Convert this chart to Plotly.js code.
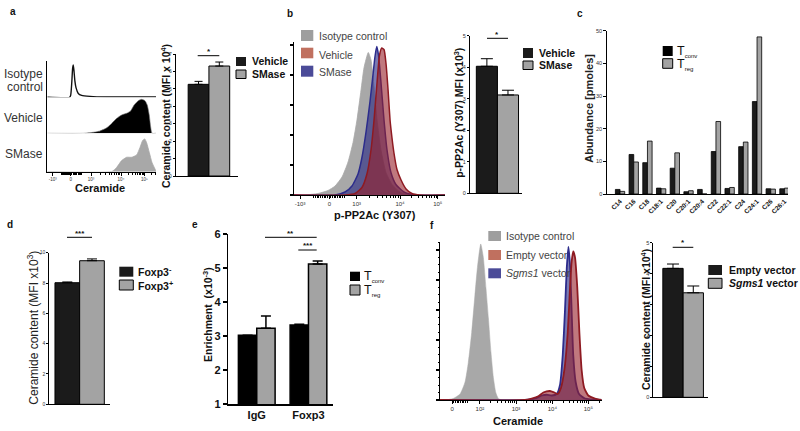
<!DOCTYPE html>
<html><head><meta charset="utf-8">
<script src="https://cdn.plot.ly/plotly-3.0.1.min.js"></script>
<style>html,body{margin:0;padding:0;background:#fff;}#chart{width:800px;height:431px;}</style>
</head><body><div id="chart"></div>
<script>
// ---------- DATA ----------
// panel a histograms (channel position 0-100, normalised count)
const aIsoX = [0, 20.5, 21.5, 22.5, 23.3, 23.9, 24.6, 25.4, 26.4, 28.5, 31.6, 39.3, 54.6, 100];
const aIsoY = [0, 0, 0.06, 0.45, 0.9, 1.0, 0.8, 0.5, 0.3, 0.12, 0.06, 0.03, 0.01, 0.01];
const aVehX = [0, 33.1, 42.3, 48.5, 54.6, 59.2, 63.8, 68.4, 73, 76.7, 79.8, 83.7, 86.8, 89.9, 92, 93.8, 95.1, 96.3, 100];
const aVehY = [0, 0, 0.03, 0.07, 0.16, 0.29, 0.44, 0.54, 0.59, 0.66, 0.83, 0.96, 1.0, 0.96, 0.83, 0.54, 0.19, 0, 0];
const aSmaX = [0, 59.2, 63.8, 68.4, 73, 77.6, 82.2, 85.3, 87.7, 89.6, 91.4, 93.8, 96.3, 99.1, 100];
const aSmaY = [0, 0, 0.13, 0.34, 0.44, 0.44, 0.51, 0.74, 0.95, 1.0, 0.88, 0.59, 0.28, 0.08, 0];
const aHistTicks = ['-10³', '0', '10³', '10⁴', '10⁵'];
// panel a bars
const aCats = ['Vehicle', 'SMase'];
const aVals = [5.26, 6.31];
const aErr = [0.17, 0.23];
// panel b histograms
const bIsoX = [0, 7.3, 15.9, 22.5, 27.2, 31.8, 35.8, 39.1, 41.7, 44.4, 46.4, 49.2, 51, 53, 55, 57.6, 60.9, 64.9, 70.2, 76.8, 100];
const bIsoY = [0, 0, 0.01, 0.03, 0.06, 0.12, 0.22, 0.35, 0.5, 0.7, 0.85, 0.95, 0.9, 0.72, 0.5, 0.3, 0.15, 0.07, 0.02, 0, 0];
const bSmaX = [0, 27.2, 33.8, 38.4, 42.4, 45, 47.7, 50.3, 52.3, 53.6, 54.8, 56, 57.6, 59.6, 61.6, 64.2, 67.5, 72.8, 80.1, 100];
const bSmaY = [0, 0, 0.02, 0.06, 0.14, 0.25, 0.42, 0.62, 0.8, 0.92, 0.99, 0.93, 0.75, 0.5, 0.3, 0.15, 0.07, 0.02, 0, 0];
const bVehX = [0, 33.8, 40.4, 45, 48.3, 51, 53, 55, 56.6, 58.1, 59.6, 60.9, 62.3, 63.6, 64.9, 66.2, 68.2, 70.9, 74.2, 78.1, 83.4, 100];
const bVehY = [0, 0, 0.01, 0.05, 0.14, 0.3, 0.5, 0.75, 0.93, 0.98, 0.97, 0.88, 0.7, 0.5, 0.38, 0.28, 0.17, 0.1, 0.04, 0.01, 0, 0];
const bHistTicks = ['-10³', '0', '10³', '10⁴', '10⁵'];
// panel b bars
const bCats = ['Vehicle', 'SMase'];
const bVals = [4.03, 3.12];
const bErr = [0.24, 0.15];
// panel c
const cCats = ['C14', 'C16', 'C18', 'C18:1', 'C20', 'C20:1', 'C20:4', 'C22', 'C22:1', 'C24', 'C24:1', 'C26', 'C26:1'];
const cTconv = [1.4, 12.1, 9.6, 1.8, 7.9, 0.7, 1.4, 13.0, 1.7, 14.5, 28.3, 1.6, 1.6];
const cTreg = [0.8, 9.8, 16.2, 1.6, 12.6, 1.0, 0, 22.2, 2.0, 15.9, 48.1, 1.5, 1.8];
// panel d
const dCats = ['Foxp3-', 'Foxp3+'];
const dVals = [8.02, 9.47];
const dErr = [0.05, 0.12];
// panel e
const eCats = ['IgG', 'Foxp3'];
const eTconv = [3.03, 3.33];
const eTreg = [3.23, 5.12];
const eTconvErr = [0, 0.02];
const eTregErr = [0.36, 0.09];
// panel f histograms
const fIsoX = [0, 3.1, 8.2, 12.4, 15.5, 17.5, 19.6, 21.6, 23.3, 25.2, 26.8, 28.4, 29.9, 31.5, 33, 34.5, 36.1, 38.2, 100];
const fIsoY = [0, 0, 0.01, 0.04, 0.12, 0.25, 0.45, 0.7, 0.9, 1.04, 0.95, 0.75, 0.55, 0.32, 0.15, 0.05, 0.01, 0, 0];
const fEmpX = [0, 52.6, 56.7, 60.8, 63.9, 68, 70.7, 72.8, 74.8, 76.9, 79, 80.4, 81.4, 82.4, 83.5, 84.9, 86.2, 87.6, 89.2, 91.7, 95.8, 100];
const fEmpY = [0, 0, 0.01, 0.025, 0.05, 0.06, 0.05, 0.04, 0.08, 0.2, 0.45, 0.75, 0.92, 0.99, 0.95, 0.75, 0.45, 0.2, 0.08, 0.03, 0.01, 0];
const fSgmX = [0, 52.6, 58.8, 62.9, 66, 69.1, 72.2, 74.2, 75.9, 77.3, 78.4, 79.4, 80.4, 81.4, 82.4, 83.9, 86, 89.7, 100];
const fSgmY = [0, 0, 0.01, 0.03, 0.035, 0.03, 0.04, 0.1, 0.3, 0.6, 0.88, 1.02, 0.9, 0.6, 0.3, 0.12, 0.04, 0.01, 0];
const fHistTicks = ['0', '10²', '10³', '10⁴', '10⁵'];
// panel f bars
const fCats = ['Empty vector', 'Sgms1 vector'];
const fVals = [4.17, 3.38];
const fErr = [0.14, 0.22];

// ---------- STYLE / HELPERS ----------
const FONT = 'Liberation Sans, Arial, Helvetica, sans-serif';
const BLACK = '#1b1b1b', GRAY = '#a3a3a3';
const ISO = '#a8a8a8';
const RED_FILL = 'rgba(150,30,40,0.6)', RED_LINE = '#8e1a22';
const BLUE_FILL = 'rgba(40,40,130,0.62)', BLUE_LINE = '#2c2c8c';
const P = px => px / 800;
const Q = py => 1 - py / 431;

function minorFrom(major, posStart) {
  const out = [];
  for (let i = posStart; i < major.length - 1; i++) {
    const p = major[i], q = major[i + 1];
    for (let k = 2; k <= 9; k++) out.push(p + (q - p) * Math.log10(k));
  }
  const last = major[major.length - 1], w = major[major.length - 1] - major[major.length - 2];
  for (let k = 2; k <= 9; k++) { const v = last + w * Math.log10(k); if (v < 100) out.push(v); }
  return out;
}
function zeroMinor(neg, zero, pos) {
  const out = [];
  for (let k = 1; k <= 9; k++) {
    out.push(zero + (pos - zero) * k / 10 * 0.6);
    if (neg !== null) out.push(zero - (zero - neg) * k / 10 * 0.6);
  }
  return out;
}
function histX(l, r, anchor, tv, tt, minor, fs) {
  return {domain: [P(l), P(r)], anchor, range: [0, 100], showline: true, linecolor: '#000', linewidth: 1,
    ticks: 'outside', ticklen: 3, tickwidth: 1, tickcolor: '#000', tickvals: tv, ticktext: tt,
    tickfont: {size: fs, color: '#333', family: FONT}, showgrid: false, zeroline: false, fixedrange: true,
    minor: {tickmode: 'array', tickvals: minor, ticks: 'outside', ticklen: 2, tickwidth: 1, tickcolor: '#000', showgrid: false}};
}
function barY(bot, top, range, dtick, fs, anchor, extra) {
  return Object.assign({domain: [Q(bot), Q(top)], anchor, range, dtick, tick0: range[0], showline: true, linecolor: '#000',
    linewidth: 1, ticks: 'outside', ticklen: 2, tickwidth: 1, tickcolor: '#000',
    tickfont: {size: fs, color: '#333', family: FONT}, showgrid: false, zeroline: false, fixedrange: true}, extra || {});
}
function barX(l, r, range, anchor, extra) {
  return Object.assign({domain: [P(l), P(r)], anchor, range, type: 'category', showline: true, linecolor: '#000',
    linewidth: 1, ticks: '', showticklabels: false, showgrid: false, zeroline: false, fixedrange: true}, extra || {});
}
function hist(x, y, xa, ya, fill, line, lw) {
  return {type: 'scatter', mode: 'lines', x, y, xaxis: xa, yaxis: ya, fill: 'tozeroy', fillcolor: fill,
    line: {color: line, width: lw, shape: 'spline', smoothing: 0.5}, hoverinfo: 'skip', cliponaxis: true};
}
function twoBar(cats, vals, err, xa, ya, cap) {
  return {type: 'bar', x: cats, y: vals, xaxis: xa, yaxis: ya, width: 1,
    marker: {color: [BLACK, GRAY], line: {color: '#000', width: 1}},
    error_y: {type: 'data', symmetric: false, array: err, arrayminus: [0, 0], color: '#000', thickness: 1, width: cap}};
}

// ---------- TRACES ----------
const traces = [
  hist(aSmaX, aSmaY, 'x', 'y', ISO, ISO, 0.8),
  hist(aVehX, aVehY, 'x', 'y2', '#000', '#777', 0.6),
  {type: 'scatter', mode: 'lines', x: aIsoX, y: aIsoY, xaxis: 'x', yaxis: 'y3', line: {color: '#111', width: 1.4, shape: 'spline', smoothing: 0.5}, hoverinfo: 'skip'},
  twoBar(aCats, aVals, aErr, 'x2', 'y4', 4),
  hist(bIsoX, bIsoY, 'x3', 'y5', ISO, ISO, 0.8),
  hist(bSmaX, bSmaY, 'x3', 'y5', BLUE_FILL, BLUE_LINE, 1.5),
  hist(bVehX, bVehY, 'x3', 'y5', RED_FILL, RED_LINE, 1.5),
  twoBar(bCats, bVals, bErr, 'x4', 'y6', 6),
  {type: 'bar', name: 'Tconv', x: cCats, y: cTconv, xaxis: 'x5', yaxis: 'y7', width: 0.34, offset: -0.34,
    marker: {color: BLACK, line: {color: '#000', width: 0.8}}},
  {type: 'bar', name: 'Treg', x: cCats, y: cTreg, xaxis: 'x5', yaxis: 'y7', width: 0.34, offset: 0,
    marker: {color: GRAY, line: {color: '#000', width: 0.8}}},
  twoBar(dCats, dVals, dErr, 'x6', 'y8', 5),
  {type: 'bar', name: 'Tconv', x: eCats, y: eTconv, xaxis: 'x7', yaxis: 'y9', width: 0.355, offset: -0.355,
    marker: {color: '#000', line: {color: '#000', width: 1.5}},
    error_y: {type: 'data', symmetric: false, array: eTconvErr, arrayminus: [0, 0], color: '#000', thickness: 1.5, width: 5}},
  {type: 'bar', name: 'Treg', x: eCats, y: eTreg, xaxis: 'x7', yaxis: 'y9', width: 0.355, offset: 0,
    marker: {color: GRAY, line: {color: '#000', width: 1.5}},
    error_y: {type: 'data', symmetric: false, array: eTregErr, arrayminus: [0, 0], color: '#000', thickness: 1.5, width: 5}},
  hist(fIsoX, fIsoY, 'x8', 'y10', ISO, ISO, 0.5),
  hist(fSgmX, fSgmY, 'x8', 'y10', BLUE_FILL, BLUE_LINE, 1.8),
  hist(fEmpX, fEmpY, 'x8', 'y10', RED_FILL, RED_LINE, 1.8),
  twoBar(fCats, fVals, fErr, 'x9', 'y11', 6)
];

// ---------- AXES ----------
const aTV = [5.0, 21.6, 40.2, 67.8, 89.3];
const bTV = [4.0, 23.4, 41.5, 70.2, 95.2];
const fTV = [7.6, 24.7, 47.0, 69.5, 91.7];
const noAx = (bot, top, range) => ({domain: [Q(bot), Q(top)], anchor: 'x', range, showline: true, linecolor: '#000', linewidth: 1,
  ticks: '', showticklabels: false, showgrid: false, zeroline: false, fixedrange: true});

const layout = {
  width: 800, height: 431, margin: {l: 0, r: 0, t: 0, b: 0}, paper_bgcolor: '#fff', plot_bgcolor: 'rgba(0,0,0,0)',
  showlegend: false, barmode: 'group', bargap: 0, font: {family: FONT, color: '#222'},
  xaxis: histX(47.3, 156, 'y', aTV, aHistTicks, zeroMinor(aTV[0], aTV[1], aTV[2]).concat(minorFrom(aTV, 2)), 4.5),
  yaxis: noAx(171.7, 133.3, [0, 1.17]),
  yaxis2: noAx(133.3, 97.3, [0, 1.06]),
  yaxis3: noAx(97.3, 61, [0, 1.124]),
  xaxis2: barX(175.7, 238, [-1.1, 1.9], 'y4'),
  yaxis4: barY(176, 54, [0, 7], 1, 5, 'x2'),
  xaxis3: histX(294, 445, 'y5', bTV, bHistTicks, zeroMinor(bTV[0], bTV[1], bTV[2]).concat(minorFrom(bTV, 2)), 6),
  yaxis5: barY(195, 42, [0, 1.02], 0.2, 5, 'x3', {showticklabels: false, ticklen: 3, tickwidth: 1.5}),
  xaxis4: barX(470, 521.7, [-0.8, 1.65], 'y6'),
  yaxis6: barY(193.3, 35.7, [0, 5], 1, 5.5, 'x4'),
  xaxis5: barX(607.3, 788, [-0.93, 12.26], 'y7', {showticklabels: true, tickangle: -45,
    tickfont: {size: 6.5, color: '#111', family: FONT, weight: 'bold'}}),
  yaxis7: barY(194, 30.7, [0, 50], 10, 5.5, 'x5', {ticklen: 3}),
  xaxis6: barX(49.3, 110, [-0.73, 1.73], 'y8'),
  yaxis8: barY(404.3, 252.7, [0, 10], 2, 5, 'x6'),
  xaxis7: barX(228.3, 333.3, [-0.55, 1.48], 'y9', {showticklabels: true, linewidth: 1.6,
    tickfont: {size: 11, color: '#111', family: FONT, weight: 'bold'}}),
  yaxis9: barY(404.3, 234, [1, 6], 1, 11, 'x7', {linewidth: 1.6, ticklen: 4, tickwidth: 1.6,
    tickfont: {size: 11, color: '#111', family: FONT, weight: 'bold'}}),
  xaxis8: histX(440, 601.7, 'y10', fTV, fHistTicks, zeroMinor(null, fTV[0], fTV[1]).concat(minorFrom(fTV, 1)), 6),
  yaxis10: barY(400, 241.7, [0, 1.055], 0.2, 5, 'x8', {showticklabels: false, ticklen: 3, tickwidth: 1.5,
    minor: {dtick: 0.05, ticks: 'outside', ticklen: 1.5, tickwidth: 1, tickcolor: '#000', showgrid: false}}),
  xaxis9: barX(653.3, 708.3, [-0.97, 1.74], 'y11'),
  yaxis11: barY(397.3, 242.7, [0, 5], 1, 5.5, 'x9'),
  shapes: [],
  annotations: []
};

const A = layout.annotations, S = layout.shapes;
function txt(text, x, y, size, opts) {
  A.push(Object.assign({text, x: P(x), y: Q(y), xref: 'paper', yref: 'paper', showarrow: false,
    xanchor: 'center', yanchor: 'middle', font: {size, family: FONT, color: '#111'}}, opts || {}));
}
function line(x0, x1, y, w) {
  S.push({type: 'line', xref: 'paper', yref: 'paper', x0: P(x0), x1: P(x1), y0: Q(y), y1: Q(y), line: {color: '#000', width: w || 1}});
}
function box(x0, x1, y0, y1, fill, border) {
  S.push({type: 'rect', xref: 'paper', yref: 'paper', x0: P(x0), x1: P(x1), y0: Q(y1), y1: Q(y0), fillcolor: fill,
    line: {color: border || fill, width: border ? 1 : 0}});
}
const bold = (s, c) => ({size: s, family: FONT, color: c || '#111', weight: 'bold'});
const reg = (s, c) => ({size: s, family: FONT, color: c || '#333'});

[['a', 13, 12], ['b', 290, 13], ['c', 580, 13], ['d', 10, 224], ['e', 195, 224], ['f', 432, 225]]
  .forEach(l => txt(l[0], l[1], l[2], 10, {font: bold(10)}));

// panel a
txt('Isotype', 45, 74, 12, {xanchor: 'right', font: reg(12)});
txt('control', 45, 86.5, 12, {xanchor: 'right', font: reg(12)});
txt('Vehicle', 45, 117.7, 12, {xanchor: 'right', font: reg(12)});
txt('SMase', 45, 154.3, 12, {xanchor: 'right', font: reg(12)});
txt('Ceramide', 100.5, 187.5, 11, {font: bold(11)});
txt('Ceramide content (MFI x 10<sup>4</sup>)', 165, 116, 10.5, {textangle: -90, font: bold(10.5)});
line(197.7, 219.3, 55.7); txt('*', 208.5, 51.5, 8, {font: bold(8)});
box(236, 246, 57, 66, BLACK); box(236, 246, 70, 78.5, GRAY, '#000');
txt('Vehicle', 249.5, 61.5, 10.5, {xanchor: 'left', font: bold(10.5)});
txt('SMase', 249.5, 74.2, 10.5, {xanchor: 'left', font: bold(10.5)});

// panel b
box(301, 313.3, 30, 41, '#9e9e9e'); box(301, 313.3, 47.7, 58.3, '#c0705f'); box(301, 313.3, 65.7, 76.7, '#4b4b98');
txt('Isotype control', 316.5, 36, 10.5, {xanchor: 'left', font: reg(10.5, '#444')});
txt('Vehicle', 316.5, 54.5, 10.5, {xanchor: 'left', font: reg(10.5, '#444')});
txt('SMase', 316.5, 72.5, 10.5, {xanchor: 'left', font: reg(10.5, '#444')});
txt('p-PP2Ac (Y307)', 375, 215, 11, {font: bold(11)});
txt('p-PP2Ac (Y307) MFI (x10<sup>3</sup>)', 458.3, 112.5, 10.5, {textangle: -90, font: bold(10.5)});
line(487, 508, 38.3); txt('*', 497.5, 34.5, 8, {font: bold(8)});
box(523, 533, 48, 58, BLACK); box(523, 533, 61, 69.5, GRAY, '#000');
txt('Vehicle', 536.5, 53, 10.5, {xanchor: 'left', font: bold(10.5)});
txt('SMase', 536.5, 65.3, 10.5, {xanchor: 'left', font: bold(10.5)});

// panel c
txt('Abundance [pmoles]', 588.3, 108.5, 11, {textangle: -90, font: bold(11, '#222')});
box(662.7, 672.7, 46, 56, '#000'); box(662.7, 672.7, 58.7, 68.3, GRAY, '#000');
txt('T<sub><span style="font-size:6px">conv</span></sub>', 674.5, 51.5, 12.5, {xanchor: 'left'});
txt('T<sub><span style="font-size:6px">reg</span></sub>', 674.5, 64, 12.5, {xanchor: 'left'});

// panel d
txt('Ceramide content (MFI x10<sup>3</sup>)', 32.7, 328, 12, {textangle: -90, font: reg(12, '#222')});
line(67, 92, 237.3); txt('***', 79.5, 233, 8, {font: bold(8)});
box(119.3, 133.3, 266.7, 276.7, BLACK); box(119.3, 133.3, 280, 290, GRAY, '#000');
txt('Foxp3<sup>-</sup>', 135.5, 271.7, 10.5, {xanchor: 'left', font: bold(10.5)});
txt('Foxp3<sup>+</sup>', 135.5, 285, 10.5, {xanchor: 'left', font: bold(10.5)});

// panel e
txt('Enrichment  (x10<sup>-3</sup>)', 207, 314, 10.5, {textangle: -90, font: bold(10.5)});
line(265, 316.7, 237.3); txt('**', 290.8, 233, 8, {font: bold(8)});
line(298.3, 316.7, 250); txt('***', 307.5, 246, 8, {font: bold(8)});
box(350, 360, 271.7, 281, '#000'); box(350, 360, 285, 295, GRAY, '#000');
txt('T<sub><span style="font-size:6px">conv</span></sub>', 361.5, 276.5, 12.5, {xanchor: 'left'});
txt('T<sub><span style="font-size:6px">reg</span></sub>', 361.5, 290, 12.5, {xanchor: 'left'});

// panel f
box(488.3, 501, 231, 241, '#9e9e9e'); box(488.3, 501, 250, 260, '#c0705f'); box(488.3, 501, 268.3, 278.3, '#4b4b98');
txt('Isotype control', 503.5, 236, 10.5, {xanchor: 'left', font: reg(10.5, '#444')});
txt('Empty vector', 503.5, 255, 10.5, {xanchor: 'left', font: reg(10.5, '#444')});
txt('<i>Sgms1</i> vector', 503.5, 273.3, 10.5, {xanchor: 'left', font: reg(10.5, '#444')});
txt('Ceramide', 517.5, 420.7, 11, {font: bold(11)});
txt('Ceramide content (MFI x10<sup>4</sup>)', 645, 320, 10.5, {textangle: -90, font: bold(10.5)});
line(672.7, 693.3, 247.3); txt('*', 683, 243, 8, {font: bold(8)});
box(708.3, 722, 265, 275, BLACK); box(708.3, 722, 278.3, 288.3, GRAY, '#000');
txt('Empty vector', 726.5, 270, 10.5, {xanchor: 'left', font: bold(10.5)});
txt('<i>Sgms1</i> vector', 726.5, 283.3, 10.5, {xanchor: 'left', font: bold(10.5)});

Plotly.newPlot('chart', traces, layout, {displayModeBar: false, staticPlot: true});
</script></body></html>
